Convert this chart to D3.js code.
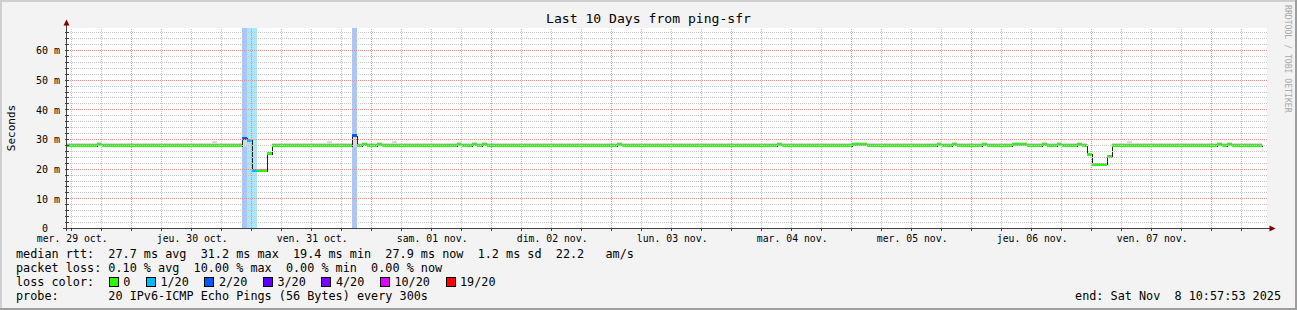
<!DOCTYPE html>
<html>
<head>
<meta charset="utf-8">
<title>ping-sfr</title>
<script src="https://cdn.jsdelivr.net/npm/d3@7/dist/d3.min.js"></script>
<style>
  body { margin: 0; background: #fff; }
  text { font-family: "DejaVu Sans Mono", monospace; white-space: pre; }
</style>
</head>
<body>
<div id="graph"></div>
<script>
const title = "Last 10 Days from ping-sfr"
const yLabel = "Seconds"
const dayLabels = ["mer. 29 oct.", "jeu. 30 oct.", "ven. 31 oct.", "sam. 01 nov.", "dim. 02 nov.",
                   "lun. 03 nov.", "mar. 04 nov.", "mer. 05 nov.", "jeu. 06 nov.", "ven. 07 nov."]
const yTicks = [0, 10, 20, 30, 40, 50, 60]

// hourly medians in ms, one row per day, first value = hour ending 29 oct 11:00
const median = [
  27.9,27.9,27.9,27.9,27.9,27.9,27.9,28.2,27.9,27.9,27.9,27.9,27.9,27.9,27.9,27.9,27.9,27.9,27.9,27.9,27.9,27.9,27.9,27.9,
  27.9,27.9,27.9,27.9,27.9,27.9,27.9,27.9,27.9,27.9,27.9,27.9,30.4,29.8,19.4,19.4,19.4,25.2,27.9,27.9,27.9,27.9,27.9,27.9,
  27.9,27.9,27.9,27.9,27.9,27.9,27.9,27.9,27.9,27.9,31.2,27.9,28.2,27.9,27.9,28.2,27.9,27.9,27.9,27.9,27.9,27.9,27.9,27.9,
  27.9,27.9,27.9,27.9,27.9,27.9,27.9,28.2,27.9,27.9,28.2,27.9,28.2,27.9,27.9,27.9,27.9,27.9,27.9,27.9,27.9,27.9,27.9,27.9,
  27.9,27.9,27.9,27.9,27.9,27.9,27.9,27.9,27.9,27.9,27.9,27.9,27.9,27.9,27.9,28.2,27.9,27.9,27.9,27.9,27.9,27.9,27.9,27.9,
  27.9,27.9,27.9,27.9,27.9,27.9,27.9,27.9,27.9,27.9,27.9,27.9,27.9,27.9,27.9,27.9,27.9,27.9,27.9,27.9,27.9,27.9,27.9,28.2,
  27.9,27.9,27.9,27.9,27.9,27.9,27.9,27.9,27.9,27.9,27.9,27.9,27.9,27.9,28.2,28.2,28.2,27.9,27.9,27.9,27.9,27.9,27.9,27.9,
  27.9,27.9,27.9,27.9,27.9,27.9,27.9,28.2,27.9,27.9,28.2,27.9,27.9,27.9,27.9,27.9,28.2,27.9,27.9,27.9,27.9,27.9,28.2,28.2,
  28.2,27.9,27.9,27.9,28.2,27.9,27.9,28.2,27.9,27.9,27.9,28.2,27.9,25.0,21.6,21.6,21.6,24.3,27.9,27.9,27.9,27.9,27.9,27.9,
  27.9,27.9,27.9,27.9,27.9,27.9,27.9,27.9,27.9,27.9,27.9,27.9,27.9,27.9,27.9,28.2,27.9,28.2,27.9,27.9,27.9,27.9,27.9,27.9
]

// smoke: lowest / highest ping of each hour (ms)
const smokeLo = [
  27.5,27.5,27.5,27.5,27.5,27.5,27.5,27.8,27.5,27.5,27.5,27.5,27.5,27.5,27.5,27.5,27.5,27.5,27.5,27.5,27.5,27.5,27.5,27.5,
  27.5,27.5,27.5,27.5,27.5,27.5,27.5,27.5,27.5,27.5,27.5,27.5,27.6,29.2,19.1,19.1,19.1,24.8,27.5,27.5,27.5,27.5,27.5,27.5,
  27.5,27.5,27.5,27.5,27.5,27.5,27.5,27.5,27.5,27.5,27.6,27.5,27.8,27.5,27.5,27.8,27.5,27.5,27.5,27.5,27.5,27.5,27.5,27.5,
  27.5,27.5,27.5,27.5,27.5,27.5,27.5,27.8,27.5,27.5,27.8,27.5,27.8,27.5,27.5,27.5,27.5,27.5,27.5,27.5,27.5,27.5,27.5,27.5,
  27.5,27.5,27.5,27.5,27.5,27.5,27.5,27.5,27.5,27.5,27.5,27.5,27.5,27.5,27.5,27.8,27.5,27.5,27.5,27.5,27.5,27.5,27.5,27.5,
  27.5,27.5,27.5,27.5,27.5,27.5,27.5,27.5,27.5,27.5,27.5,27.5,27.5,27.5,27.5,27.5,27.5,27.5,27.5,27.5,27.5,27.5,27.5,27.8,
  27.5,27.5,27.5,27.5,27.5,27.5,27.5,27.5,27.5,27.5,27.5,27.5,27.5,27.5,27.8,27.8,27.8,27.5,27.5,27.5,27.5,27.5,27.5,27.5,
  27.5,27.5,27.5,27.5,27.5,27.5,27.5,27.8,27.5,27.5,27.8,27.5,27.5,27.5,27.5,27.5,27.8,27.5,27.5,27.5,27.5,27.5,27.8,27.8,
  27.8,27.5,27.5,27.5,27.8,27.5,27.5,27.8,27.5,27.5,27.5,27.8,27.5,24.6,21.2,21.2,21.2,23.9,27.5,27.5,27.5,27.5,27.5,27.5,
  27.5,27.5,27.5,27.5,27.5,27.5,27.5,27.5,27.5,27.5,27.5,27.5,27.5,27.5,27.5,27.8,27.5,27.8,27.5,27.5,27.5,27.5,27.5,27.5
]
const smokeHi = [
  28.8,28.8,28.8,28.8,28.8,28.8,28.8,29.1,28.8,28.8,28.8,28.8,28.8,28.8,28.8,28.8,28.8,28.8,28.8,28.8,28.8,28.8,28.8,28.8,
  28.8,28.8,28.8,28.8,28.8,28.8,29.4,28.8,28.8,28.8,28.8,28.8,30.6,30.0,19.8,19.8,19.8,25.6,28.8,28.8,28.8,28.8,28.8,28.8,
  28.8,28.8,28.8,28.8,28.8,29.4,28.8,28.8,28.8,28.8,31.3,28.8,29.1,28.8,28.8,29.1,28.8,28.8,29.4,28.8,28.8,28.8,28.8,28.8,
  28.8,28.8,28.8,28.8,28.8,28.8,28.8,29.1,28.8,28.8,29.1,28.8,29.1,28.8,28.8,28.8,28.8,28.8,28.8,28.8,28.8,28.8,28.8,28.8,
  28.8,28.8,28.8,28.8,28.8,28.8,28.8,28.8,28.8,28.8,28.8,28.8,28.8,28.8,28.8,29.1,28.8,28.8,28.8,28.8,28.8,28.8,28.8,28.8,
  28.8,28.8,28.8,28.8,28.8,28.8,28.8,28.8,28.8,28.8,28.8,28.8,28.8,28.8,28.8,28.8,28.8,28.8,28.8,28.8,28.8,28.8,28.8,29.1,
  28.8,28.8,28.8,28.8,28.8,28.8,28.8,28.8,28.8,28.8,28.8,28.8,28.8,28.8,29.1,29.1,29.1,28.8,28.8,28.8,28.8,28.8,28.8,28.8,
  28.8,28.8,28.8,28.8,28.8,28.8,28.8,29.1,28.8,28.8,29.1,28.8,28.8,28.8,28.8,28.8,29.1,28.8,28.8,28.8,28.8,28.8,29.1,29.1,
  29.1,28.8,28.8,28.8,29.1,28.8,28.8,29.1,28.8,28.8,28.8,29.1,28.8,25.4,22.0,22.0,22.0,24.7,28.8,28.8,28.8,29.4,28.8,28.8,
  28.8,28.8,28.8,28.8,28.8,28.8,28.8,28.8,28.8,28.8,28.8,28.8,28.8,28.8,28.8,29.1,28.8,29.1,28.8,28.8,28.8,28.8,28.8,28.8
]

// hours with lost pings (index into median) and how many of 20 were lost
const lossHours = [36, 37, 38, 58]
const lossCounts = [2, 1, 1, 2]

const lossLimits = [0, 1, 2, 3, 4, 10, 19]
const lossLabels = ["0", "1/20", "2/20", "3/20", "4/20", "10/20", "19/20"]
const lossColors = ["#26ff00", "#00b8ff", "#0059ff", "#5e00ff", "#7e00ff", "#dd00ff", "#ff0000"]

const legendRtt = "median rtt:  27.7 ms avg  31.2 ms max  19.4 ms min  27.9 ms now  1.2 ms sd  22.2   am/s"
const legendLoss = "packet loss: 0.10 % avg  10.00 % max  0.00 % min  0.00 % now"
const legendProbe = "probe:       20 IPv6-ICMP Echo Pings (56 Bytes) every 300s"
const legendEnd = "end: Sat Nov  8 10:57:53 2025"
const watermark = "RRDTOOL / TOBI OETIKER"

const W = 1297, H = 310
const plot = {left: 66.5, right: 1266.5, top: 28.5, bottom: 228.5}

const start = new Date(Date.UTC(2025, 9, 29, 10, 57, 53))
const end = new Date(Date.UTC(2025, 10, 8, 10, 57, 53))
const hours = d3.utcHour.range(new Date(Date.UTC(2025, 9, 29, 11)), new Date(Date.UTC(2025, 10, 8, 11)))

const x = d3.scaleUtc().domain([start, end]).range([plot.left, plot.right])
const y = d3.scaleLinear().domain([0, 200 / 2.9667]).range([plot.bottom, plot.top])

const lossColor = n => lossColors[lossLimits.findIndex(l => n <= l)]
const lossAt = {}
lossHours.forEach((h, i) => lossAt[h] = lossCounts[i])

const samples = hours.map((t, i) => ({
  x0: x(d3.utcHour.offset(t, -1)),
  x1: x(t),
  med: median[i],
  lo: smokeLo[i],
  hi: smokeHi[i],
  loss: lossAt[i] || 0
}))

const svg = d3.select("#graph").append("svg")
  .attr("width", W).attr("height", H)

const defs = svg.append("defs")
defs.append("clipPath").attr("id", "clip")
  .append("rect").attr("x", 67).attr("y", 28).attr("width", 1200).attr("height", 201)

const minorCol = "#c4c4c4", majorCol = "#ee8c8c"

// dotted grid lines built from 1px squares, one on one off
const dotsH = (py, x0, x1) => {
  let p = ""
  for (let xx = x0; xx < x1; xx += 2) p += `M${xx},${py}h1v1h-1z`
  return p
}
const dotsV = (px, y0, y1) => {
  let p = ""
  for (let yy = y0; yy < y1; yy += 2) p += `M${px},${yy}h1v1h-1z`
  return p
}

// background + 3d frame
svg.append("rect").attr("width", W).attr("height", H).attr("fill", "#f3f3f3")
svg.append("path").attr("d", `M0,0H${W}V2H2V${H}H0Z`).attr("fill", "#cfcfcf")
svg.append("path").attr("d", `M${W},0V${H}H0V${H - 2}H${W - 2}V0Z`).attr("fill", "#9e9e9e")

svg.append("rect")
  .attr("x", 67).attr("y", 28).attr("width", 1200).attr("height", 200)
  .attr("fill", "#fff")

const g = svg.append("g").attr("clip-path", "url(#clip)")

// loss background
g.selectAll(".lossbg")
  .data(samples.filter(d => d.loss > 0))
  .enter().append("rect")
  .attr("class", "lossbg")
  .attr("x", d => d.x0).attr("width", d => d.x1 - d.x0)
  .attr("y", plot.top - 0.5).attr("height", plot.bottom - plot.top)
  .attr("fill", d => lossColor(d.loss))
  .attr("fill-opacity", 0.34)
  .attr("shape-rendering", "crispEdges")

// grid (dots on even columns for horizontal lines, odd rows for vertical ones)
const grid = svg.append("g").attr("shape-rendering", "crispEdges")
const hGrid = d3.range(2, 67, 2)
grid.selectAll("path.hg").data(hGrid).enter().append("path")
  .attr("class", "hg")
  .attr("d", d => dotsH(Math.floor(y(d)), 68, 1267))
  .attr("fill", d => d % 10 === 0 ? majorCol : minorCol)
const vGrid = d3.utcHour.range(start, end).filter(d => d.getUTCHours() % 6 === 0)
grid.selectAll("path.vg").data(vGrid).enter().append("path")
  .attr("class", "vg")
  .attr("d", d => dotsV(Math.floor(x(d)), 29, 228))
  .attr("fill", d => d.getUTCHours() === 0 ? majorCol : minorCol)

// smoke
g.selectAll(".smoke").data(samples).enter().append("rect")
  .attr("x", d => d.x0).attr("width", d => d.x1 - d.x0)
  .attr("y", d => y(d.hi)).attr("height", d => y(d.lo) - y(d.hi))
  .attr("fill", "#d9d9d9")
  .attr("shape-rendering", "crispEdges")

// median line
const medPts = []
samples.forEach(d => { medPts.push([d.x0, y(d.med)], [d.x1, y(d.med)]) })
g.append("path")
  .attr("d", d3.line()(medPts.map(p => [Math.round(p[0]) + 0.5, Math.round(p[1]) + 0.5])))
  .attr("fill", "none").attr("stroke", "#202020").attr("stroke-width", 1)
  .attr("shape-rendering", "crispEdges")

// median coloured by loss
g.selectAll(".med").data(samples).enter().append("rect")
  .attr("x", d => d.x0).attr("width", d => d.x1 - d.x0)
  .attr("y", d => y(d.med) - 1.5).attr("height", 3)
  .attr("fill", d => lossColor(d.loss))
  .attr("shape-rendering", "crispEdges")

// axes
const axisCol = "#404040"
const ax = svg.append("g").attr("shape-rendering", "crispEdges").attr("stroke", axisCol)
ax.append("line").attr("x1", 63).attr("x2", 1270).attr("y1", plot.bottom).attr("y2", plot.bottom)
ax.append("line").attr("x1", plot.left).attr("x2", plot.left).attr("y1", 231).attr("y2", 24)
ax.selectAll("line.xt").data(vGrid).enter().append("line")
  .attr("class", "xt")
  .attr("x1", d => Math.floor(x(d)) + 0.5).attr("x2", d => Math.floor(x(d)) + 0.5)
  .attr("y1", plot.bottom).attr("y2", plot.bottom + 2)
ax.selectAll("line.yt").data(hGrid).enter().append("line")
  .attr("class", "yt")
  .attr("x1", plot.left - 2).attr("x2", plot.left + 2)
  .attr("y1", d => Math.floor(y(d)) + 0.5).attr("y2", d => Math.floor(y(d)) + 0.5)
svg.append("path").attr("d", `M63.5,25.5L66.5,19.5L69.5,25.5Z`).attr("fill", "#7f0000")
svg.append("path").attr("d", `M1269.5,225.5L1275.5,228.5L1269.5,231.5Z`).attr("fill", "#7f0000")

const labelDays = d3.utcDay.range(d3.utcDay.floor(start), end).map(d => d3.utcHour.offset(d, 12))
const xAxis = svg.append("g")
  .attr("transform", `translate(0,${plot.bottom})`)
  .call(d3.axisBottom(x).tickValues(labelDays).tickFormat((d, i) => dayLabels[i]).tickSize(0))
xAxis.select(".domain").remove()
xAxis.selectAll("text")
  .attr("y", 13).attr("dy", null)
  .attr("font-family", "DejaVu Sans Mono").attr("font-size", 9.8).attr("fill", "#000")

const yAxis = svg.append("g")
  .attr("transform", `translate(${plot.left},0)`)
  .call(d3.axisLeft(y).tickValues(yTicks).tickFormat(v => v ? v + " m" : "0").tickSize(0).tickPadding(6.5))
yAxis.select(".domain").remove()
yAxis.selectAll("text")
  .attr("font-family", "DejaVu Sans Mono").attr("font-size", 10).attr("fill", "#000")
  .attr("x", d => d ? -6.5 : -18.5)

svg.append("text")
  .attr("x", W / 2).attr("y", 23)
  .attr("text-anchor", "middle").attr("font-size", 13.1)
  .text(title)

svg.append("text")
  .attr("transform", "translate(15,128) rotate(-90)")
  .attr("text-anchor", "middle").attr("font-size", 11)
  .text(yLabel)

svg.append("text")
  .attr("transform", "translate(1285,5) rotate(90)")
  .attr("font-size", 8.15).attr("fill", "#a8a8a8")
  .text(watermark)

// legend
const leg = svg.append("g").attr("font-size", 11.8).attr("fill", "#000")
leg.append("text").attr("x", 16).attr("y", 258).text(legendRtt)
leg.append("text").attr("x", 16).attr("y", 272).text(legendLoss)
leg.append("text").attr("x", 16).attr("y", 286).text("loss color:")
leg.append("text").attr("x", 16).attr("y", 300).text(legendProbe)
leg.append("text").attr("x", 1281).attr("y", 300).attr("text-anchor", "end").text(legendEnd)

let bx = 108.7
lossLabels.forEach((lab, i) => {
  leg.append("rect")
    .attr("x", Math.round(bx) + 0.5).attr("y", 277.5).attr("width", 9).attr("height", 9)
    .attr("fill", lossColors[i]).attr("stroke", "#000").attr("shape-rendering", "crispEdges")
  leg.append("text").attr("x", bx + 14.5).attr("y", 286).text(lab)
  bx = bx + 14.5 + lab.length * 7.1 + 15.6
})
</script>
</body>
</html>
